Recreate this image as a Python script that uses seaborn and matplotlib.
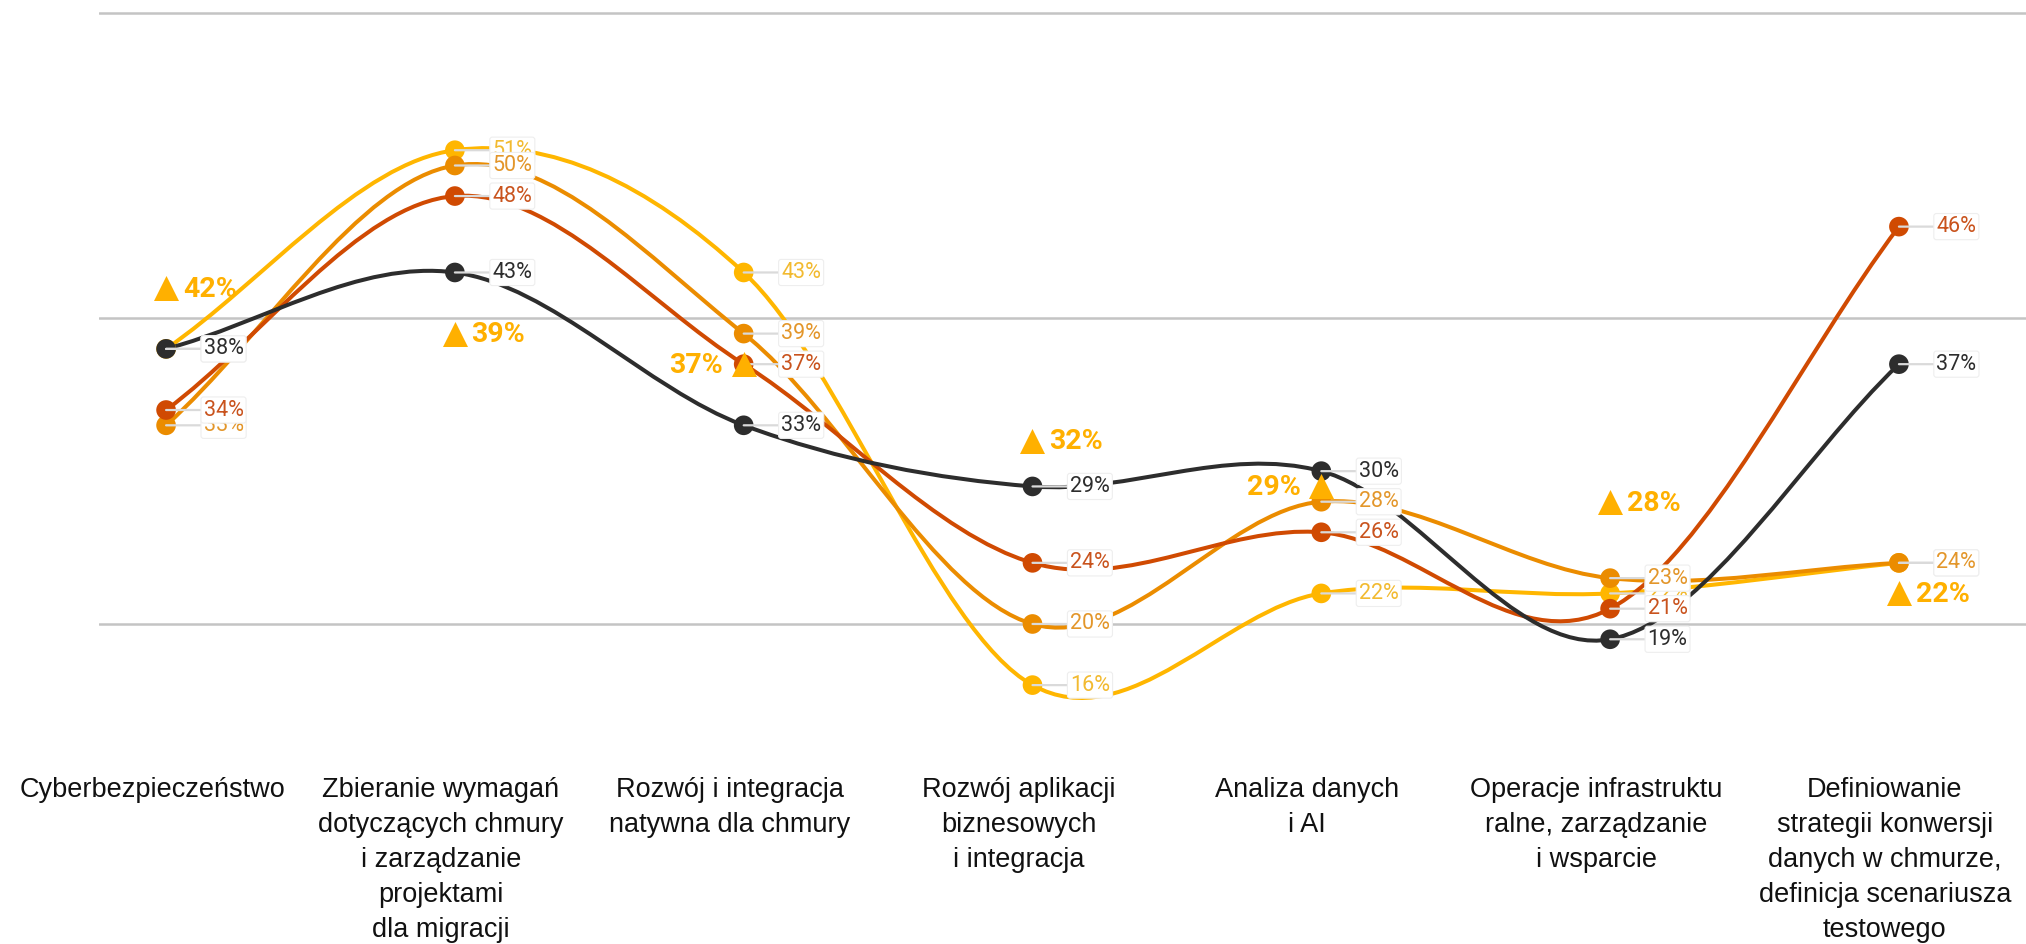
import numpy as np
import pandas as pd
import seaborn as sns
import matplotlib.pyplot as plt
from matplotlib.path import Path
from matplotlib.patches import PathPatch
from matplotlib.transforms import ScaledTranslation

categories = [
    'Cyberbezpieczeństwo',
    'Zbieranie wymagań\ndotyczących chmury\ni zarządzanie\nprojektami\ndla migracji',
    'Rozwój i integracja\nnatywna dla chmury',
    'Rozwój aplikacji\nbiznesowych\ni integracja',
    'Analiza danych\ni AI',
    'Operacje infrastruktu\nralne, zarządzanie\ni wsparcie',
    'Definiowanie\nstrategii konwersji\ndanych w chmurze,\ndefinicja scenariusza\ntestowego',
]
yellow_vals = [38, 51, 43, 16, 22, 22, 24]
orange_vals = [33, 50, 39, 20, 28, 23, 24]
red_vals = [34, 48, 37, 24, 26, 21, 46]
black_vals = [38, 43, 33, 29, 30, 19, 37]
avg_vals = [42, 39, 37, 32, 29, 28, 22]
avg_side = ['r', 'r', 'l', 'r', 'l', 'r', 'r']

series = {'yellow': yellow_vals, 'orange': orange_vals, 'red': red_vals, 'black': black_vals}
line_colors = {'yellow': '#FFB600', 'orange': '#EB8C00', 'red': '#D04A02', 'black': '#2D2D2D'}
label_colors = {'yellow': '#F2BA30', 'orange': '#E3962A', 'red': '#C9531D', 'black': '#2D2D2D'}

rows = []
for name, vals in series.items():
    for i, v in enumerate(vals):
        rows.append({'series': name, 'pos': i, 'value': v})
df = pd.DataFrame(rows)


def smooth_path(xs, ys):
    # catmull-rom style curve, like the "function" curve type
    pts = np.column_stack([xs, ys]).astype(float)
    tang = np.zeros_like(pts)
    tang[1:-1] = (pts[2:] - pts[:-2]) / 2
    tang[0] = pts[1] - pts[0]
    tang[-1] = pts[-1] - pts[-2]
    verts = [pts[0]]
    codes = [Path.MOVETO]
    for i in range(len(pts) - 1):
        verts += [pts[i] + tang[i] / 3, pts[i + 1] - tang[i + 1] / 3, pts[i + 1]]
        codes += [Path.CURVE4] * 3
    return Path(verts, codes)


sns.set_theme(style='white')
plt.rcParams['font.family'] = ['Roboto', 'DejaVu Sans']

fig = plt.figure(figsize=(20.26, 9.44), dpi=100)
ax = fig.add_axes([0.0489, 0.1933, 0.9511, 0.803])

for name, vals in series.items():
    patch = PathPatch(smooth_path(range(len(vals)), vals), fill=False,
                      ec=line_colors[name], lw=2.9, capstyle='round', zorder=3)
    ax.add_patch(patch)

sns.scatterplot(data=df, x='pos', y='value', hue='series', palette=line_colors,
                s=200, linewidth=0, legend=False, zorder=4, ax=ax)

for name, vals in series.items():
    for i, v in enumerate(vals):
        ax.annotate(f'{v}%', xy=(i, v), xytext=(27, 0), textcoords='offset points',
                    ha='left', va='center', fontsize=15.5, color=label_colors[name],
                    bbox=dict(boxstyle='round,pad=0.12', fc='white', ec='#eeeeee', lw=0.8),
                    arrowprops=dict(arrowstyle='-', color='#dadada', lw=1.6,
                                    shrinkA=0, shrinkB=0),
                    zorder=5)

sns.scatterplot(x=list(range(len(avg_vals))), y=avg_vals, marker='^', s=18 ** 2,
                color='#FFB000', linewidth=0, zorder=6, ax=ax)
for i, v in enumerate(avg_vals):
    if avg_side[i] == 'r':
        off, ha = (12, -1), 'left'
    else:
        off, ha = (-15, -1), 'right'
    ax.annotate(f'{v}%', xy=(i, v), xytext=off, textcoords='offset points',
                ha=ha, va='center', fontsize=20.5, fontweight='bold', color='#FFB000',
                zorder=7)

ax.set_xlim(-0.232, 6.44)
ax.set_ylim(11, 60.6)
ax.set_yticks([20, 40, 60])
ax.set_yticklabels([])
ax.grid(axis='y', color='#c4c4c4', lw=1.8)
ax.grid(axis='x', visible=False)
for sp in ax.spines.values():
    sp.set_visible(False)

ax.set_xticks(range(len(categories)))
ax.set_xticklabels(categories, fontsize=19.5, family=['Liberation Sans', 'DejaVu Sans'],
                   color='#111111', linespacing=1.45)
ax.tick_params(axis='x', length=0, pad=11)
ax.tick_params(axis='y', length=0)
shift = ScaledTranslation(-14 / 100, 0, fig.dpi_scale_trans)
for lab in ax.get_xticklabels():
    lab.set_transform(lab.get_transform() + shift)
ax.set_xlabel('')
ax.set_ylabel('')

fig.savefig('out.png', dpi=100)
